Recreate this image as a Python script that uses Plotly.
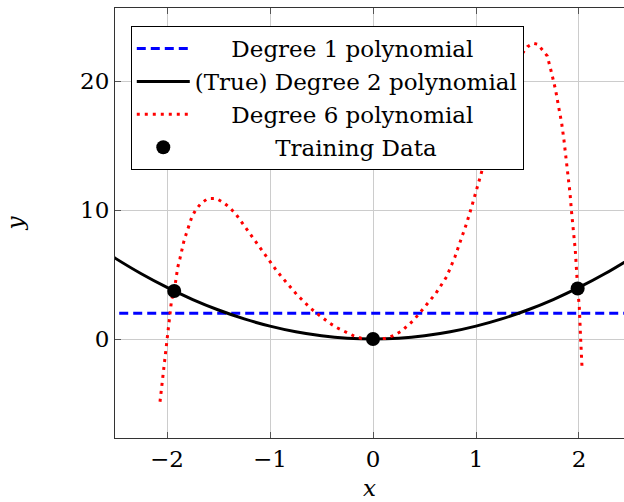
import plotly.graph_objects as go

# Training data
train_x = [-1.93, 0.0, 1.987]
train_y = [3.72, 0.0, 3.92]

# Degree 1 fit (flat line)
deg1_x = [-2.6, 2.6]
deg1_y = [2.0, 2.0]

# True degree 2 polynomial (read at 0.25 steps)
deg2_x = [-2.6, -2.5, -2.25, -2.0, -1.75, -1.5, -1.25, -1.0, -0.75, -0.5, -0.25, 0.0,
          0.25, 0.5, 0.75, 1.0, 1.25, 1.5, 1.75, 2.0, 2.25, 2.5, 2.6]
deg2_y = [6.76, 6.25, 5.06, 4.0, 3.06, 2.25, 1.56, 1.0, 0.56, 0.25, 0.06, 0.0,
          0.06, 0.25, 0.56, 1.0, 1.56, 2.25, 3.06, 4.0, 5.06, 6.25, 6.76]

# Degree 6 polynomial
deg6_x = [-2.068, -2.049, -2.036, -2.016, -1.997, -1.977, -1.955, -1.93, -1.896, -1.874,
          -1.857, -1.838, -1.812, -1.786, -1.757, -1.722, -1.670, -1.602, -1.524, -1.450,
          -1.388, -1.330, -1.282, -1.233, -1.184, -1.136, -1.042, -0.994, -0.945, -0.893,
          -0.838, -0.786, -0.734, -0.677, -0.612, -0.547, -0.482, -0.417, -0.350, -0.278,
          -0.191, -0.110, 0.0, 0.117, 0.197, 0.278, 0.392, 0.450, 0.505, 0.553,
          0.610, 0.660, 0.715, 0.796, 0.864, 0.909, 0.958, 1.006, 1.049, 1.10,
          1.20, 1.30, 1.40, 1.50, 1.556, 1.600, 1.638, 1.692, 1.735, 1.773,
          1.799, 1.832, 1.854, 1.874, 1.896, 1.913, 1.926, 1.945, 1.964, 1.987,
          2.003, 2.015, 2.030]
deg6_y = [-4.86, -3.49, -2.27, -0.93, 0.39, 1.68, 3.08, 3.72, 5.56, 6.25,
          6.90, 7.52, 8.19, 8.78, 9.51, 10.0, 10.52, 10.9, 10.9, 10.57,
          10.16, 9.66, 9.12, 8.63, 8.09, 7.52, 6.49, 5.97, 5.40, 4.88,
          4.34, 3.88, 3.39, 2.95, 2.43, 2.0, 1.6, 1.21, 0.88, 0.57,
          0.26, 0.05, 0.0, 0.05, 0.26, 0.62, 1.44, 1.99, 2.5, 3.02,
          3.54, 4.15, 4.83, 6.38, 7.93, 8.97, 10.26, 11.55, 12.79, 14.3,
          17.2, 19.8, 21.6, 22.66, 22.92, 22.85, 22.48, 21.94, 20.6, 19.3,
          18.14, 16.72, 15.43, 14.13, 12.71, 11.29, 10.0, 8.45, 6.90, 3.92,
          2.5, 0.18, -2.27]

x_ticks = [-2, -1, 0, 1, 2]
y_ticks = [0, 10, 20]

NB = "\u00a0"
FONT = "DejaVu Serif"
FS = 23

fig = go.Figure()
fig.add_trace(go.Scatter(x=deg1_x, y=deg1_y, mode="lines",
                         name=NB * 5 + "Degree 1 polynomial",
                         line=dict(color="#0000ff", width=3, dash="9px,5px")))
fig.add_trace(go.Scatter(x=deg2_x, y=deg2_y, mode="lines",
                         name="(True) Degree 2 polynomial",
                         line=dict(color="black", width=3, shape="spline")))
fig.add_trace(go.Scatter(x=deg6_x, y=deg6_y, mode="lines",
                         name=NB * 5 + "Degree 6 polynomial",
                         line=dict(color="#ff0000", width=3, dash="3px,5px")))
fig.add_trace(go.Scatter(x=train_x, y=train_y, mode="markers",
                         name=NB * 11 + "Training Data",
                         marker=dict(color="black", size=14)))

fig.update_layout(
    width=624, height=502,
    margin=dict(l=115, r=0, t=8, b=64),
    paper_bgcolor="white", plot_bgcolor="white",
    font=dict(family=FONT, size=FS, color="black"),
    legend=dict(x=0.031, y=0.958, xanchor="left", yanchor="top",
                bgcolor="white", bordercolor="black", borderwidth=1,
                font=dict(family=FONT, size=FS), itemwidth=53,
                tracegroupgap=0),
    xaxis=dict(range=[-2.505, 2.437], tickvals=x_ticks,
               showgrid=True, gridcolor="#cccccc", gridwidth=1,
               zeroline=False, showline=True, linecolor="#333333", linewidth=1,
               mirror="ticks", ticks="inside", ticklen=6, tickcolor="#555555",
               tickfont=dict(family=FONT, size=FS),
               title=dict(text="<i>x</i>", font=dict(family=FONT, size=FS), standoff=9)),
    yaxis=dict(range=[-7.67, 25.66], tickvals=y_ticks,
               showgrid=True, gridcolor="#cccccc", gridwidth=1,
               zeroline=False, showline=True, linecolor="#333333", linewidth=1,
               mirror=False, ticks="inside", ticklen=6, tickcolor="#555555",
               tickfont=dict(family=FONT, size=FS),
               title=dict(text="<i>y</i>", font=dict(family=FONT, size=FS), standoff=50)),
)

fig.write_html("out.html")
